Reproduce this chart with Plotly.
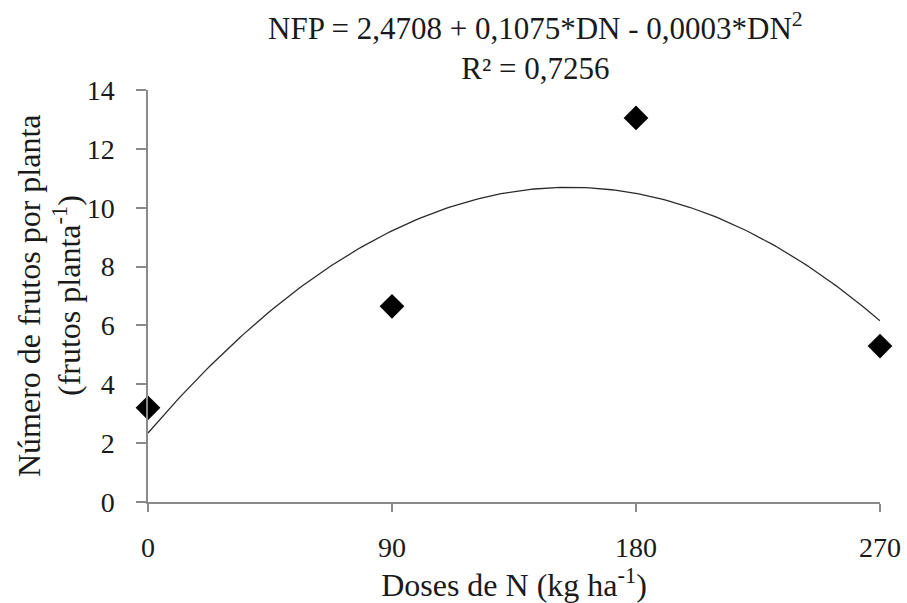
import numpy as np
import plotly.graph_objects as go

# Nitrogen doses (kg/ha) and fruits per plant
doses = [0, 90, 180, 270]
frutos = [3.2, 6.65, 13.05, 5.3]
x_ticks = [0, 90, 180, 270]
y_ticks = [0, 2, 4, 6, 8, 10, 12, 14]

# Quadratic regression fitted to the observed means
coef = np.polyfit(doses, frutos, 2)
xf = np.linspace(0, 270, 200)
yf = np.polyval(coef, xf)

serif = "Liberation Serif"
txt = "#1a1a1a"
axis_gray = "#8a8a8a"

# plot area in pixels
L, R, T, B = 148, 27, 90, 101
PW, PH = 907 - L - R, 603 - T - B

fig = go.Figure()
fig.add_trace(go.Scatter(
    x=xf, y=yf, mode="lines",
    line=dict(color="#2a2a2a", width=1.3),
    hoverinfo="skip", showlegend=False,
))
fig.add_trace(go.Scatter(
    x=doses, y=frutos, mode="markers",
    marker=dict(symbol="diamond", size=19, color="black"),
    cliponaxis=False, showlegend=False,
))

# Regression equation above the plot area
fig.add_annotation(
    xref="paper", yref="paper", x=(535 - L) / PW, y=1 + (T - 46) / PH,
    xanchor="center", yanchor="middle", showarrow=False,
    text="NFP = 2,4708 + 0,1075*DN - 0,0003*DN<sup>2</sup><br>R² = 0,7256",
    font=dict(family=serif, size=31, color=txt),
)

# Two-line y-axis title
for xpix, line in [(29, "Número de frutos por planta"),
                   (67, "(frutos planta<sup>-1</sup>)")]:
    fig.add_annotation(
        xref="paper", yref="paper", x=(xpix - L) / PW, y=0.5,
        xanchor="center", yanchor="middle", showarrow=False, textangle=-90,
        text=line, font=dict(family=serif, size=32, color=txt),
    )

fig.update_layout(
    width=907, height=603,
    margin=dict(l=L, r=R, t=T, b=B),
    plot_bgcolor="white", paper_bgcolor="white",
    font=dict(family=serif, color=txt),
)
fig.update_xaxes(
    range=[0, 270], tickvals=x_ticks, ticktext=[str(v) for v in x_ticks],
    automargin=False,
    showline=True, linecolor=axis_gray, linewidth=1.5,
    ticks="outside", ticklen=8, tickcolor=axis_gray, tickwidth=1.5,
    ticklabelstandoff=12,
    showgrid=False, zeroline=False,
    tickfont=dict(family=serif, size=28, color=txt),
    title=dict(text="Doses de N (kg ha<sup>-1</sup>)", standoff=10,
               font=dict(family=serif, size=32, color=txt)),
)
fig.update_yaxes(
    range=[0, 14], tickvals=y_ticks, automargin=False,
    showline=True, linecolor=axis_gray, linewidth=1.5,
    ticks="outside", ticklen=10, tickcolor=axis_gray, tickwidth=1.5,
    ticklabelstandoff=16,
    showgrid=False, zeroline=False,
    tickfont=dict(family=serif, size=28, color=txt),
)

fig.write_html("out.html")
